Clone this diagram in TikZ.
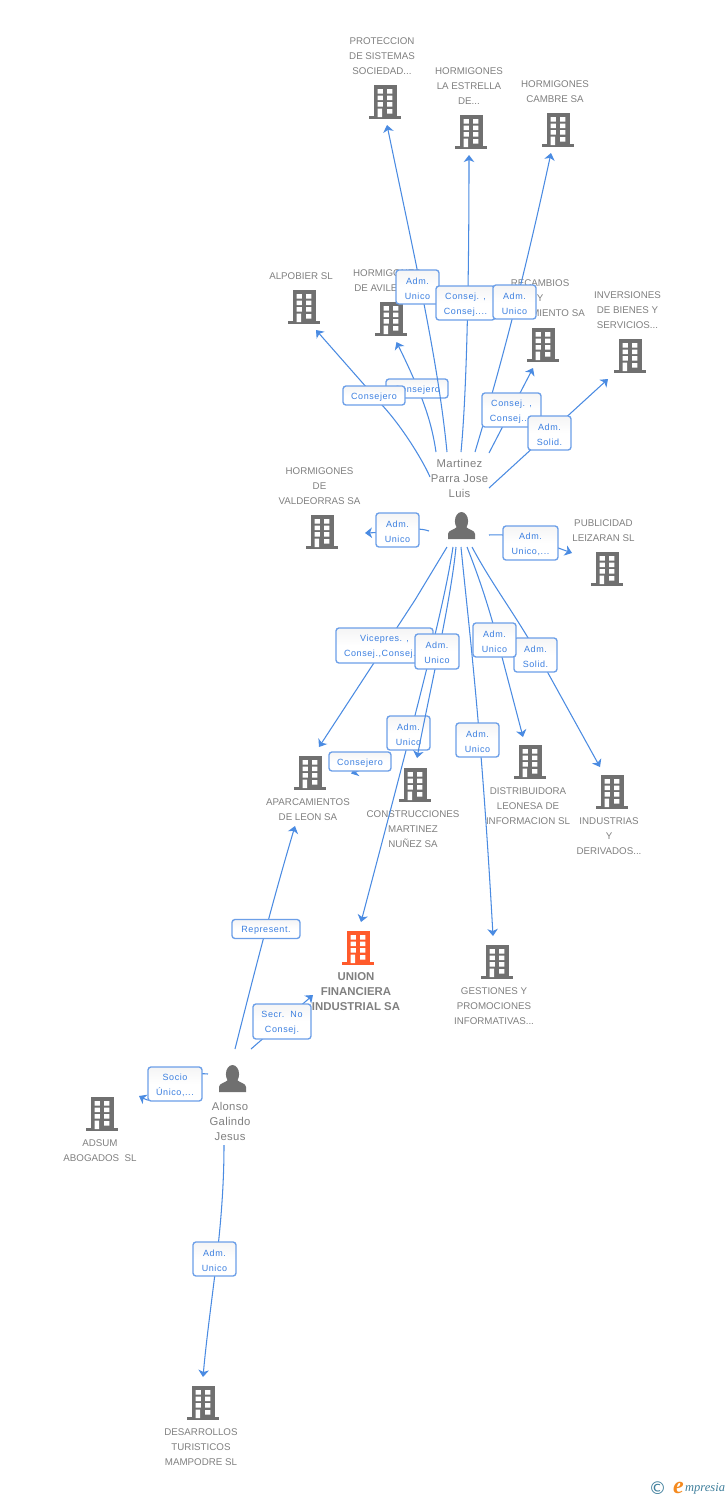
\documentclass[tikz,border=0pt]{standalone}
\usepackage{fontspec}
\usetikzlibrary{arrows.meta}
\setmainfont{Liberation Sans}
\newfontfamily\lblfont[LetterSpace=6.5]{Liberation Sans}
\newfontfamily\perfont[LetterSpace=3]{Liberation Sans}
\newfontfamily\logoserif{Liberation Serif}
\newfontfamily\logosym{DejaVu Sans}
\newcommand{\lift}{\rule{0pt}{9.5pt}}
\definecolor{linkblue}{HTML}{4A8BE2}
\definecolor{boxedge}{HTML}{6C9FE8}
\definecolor{boxtext}{HTML}{3B7FE0}
\definecolor{icongray}{HTML}{707070}
\definecolor{textgray}{HTML}{808080}
\definecolor{focus}{HTML}{FF5A2B}
\definecolor{logoteal}{HTML}{3F7F9C}
\definecolor{logoorange}{HTML}{F58A1F}
\tikzset{
  x=1pt,y=-1pt,
  conn/.style={draw=linkblue,line width=1.05pt,-{Stealth[length=7pt,width=10.5pt,inset=2pt]}},
  lbl/.style={draw=boxedge,line width=1.35pt,rounded corners=3pt,top color=blue!3!gray!8,bottom color=white,middle color=white,
    font=\lblfont\fontsize{9}{15}\selectfont,text=boxtext,align=center,inner sep=0pt},
  ent/.style={font=\fontsize{9.75}{15}\selectfont,text=textgray,align=center,inner sep=0pt},
  entbold/.style={font=\bfseries\fontsize{11.4}{15}\selectfont,text=textgray,align=center,inner sep=0pt},
  per/.style={font=\perfont\fontsize{11.3}{15}\selectfont,text=textgray,align=center,inner sep=0pt},
  pics/bld/.style={code={
    \fill[#1] (-11.5,0) rectangle (11.5,32);
    \fill[#1] (-16,31) rectangle (16,34);
    \fill[white] (-7.3,4) rectangle (-2.2,8.5) (2,4) rectangle (7.3,8.5)
      (-7.3,10.7) rectangle (-2.2,15.2) (2,10.7) rectangle (7.3,15.2)
      (-7.3,17.2) rectangle (-2.2,21.5) (2,17.2) rectangle (7.3,21.5)
      (-7.3,23.5) rectangle (-2.8,32) (2,24) rectangle (7.3,28.5);
  }},
  pics/guy/.style={code={
    \fill[icongray] (0,9.2) ellipse[x radius=6.6,y radius=9.2];
    \fill[icongray] (-13.5,27) -- (-13.5,22) .. controls (-13.5,18) and (-7,18) .. (-4,14.5) -- (4,14.5) .. controls (7,18) and (13.5,18) .. (13.5,22) -- (13.5,27) -- cycle;
  }},
}
\begin{document}
\begin{tikzpicture}
\useasboundingbox (0,0) rectangle (728,1500);
\fill[white] (0,0) rectangle (728,1500);
% icons
\pic at (385,85) {bld=icongray};
\pic at (471,115) {bld=icongray};
\pic at (558,113) {bld=icongray};
\pic at (304,290) {bld=icongray};
\pic at (391,302) {bld=icongray};
\pic at (543,328) {bld=icongray};
\pic at (630,339) {bld=icongray};
\pic at (322,515) {bld=icongray};
\pic at (607,552) {bld=icongray};
\pic at (310,756) {bld=icongray};
\pic at (415,768) {bld=icongray};
\pic at (530,745) {bld=icongray};
\pic at (612,775) {bld=icongray};
\pic at (358,931) {bld=focus};
\pic at (497,945) {bld=icongray};
\pic at (102,1097) {bld=icongray};
\pic at (203,1386) {bld=icongray};
\pic at (461.5,512) {guy};
\pic at (232.5,1065) {guy};
% names
\node[ent] (tprot) at (382,56) {PROTECCION\\DE SISTEMAS\\SOCIEDAD...};
\node[ent] (testr) at (469,86) {HORMIGONES\\LA ESTRELLA\\DE...};
\node[ent] (tcamb) at (555,91.5) {HORMIGONES\\CAMBRE SA};
\node[ent] (talpo) at (301,276) {ALPOBIER SL};
\node[ent] (tavil) at (387,280.5) {HORMIGONES\\DE AVILES SA};
\node[ent] (treca) at (540,299) {RECAMBIOS\\Y\\EQUIPAMIENTO SA};
\node[ent] (tinve) at (627.5,310) {INVERSIONES\\DE BIENES Y\\SERVICIOS...};
\node[ent] (tvald) at (319.5,486) {HORMIGONES\\DE\\VALDEORRAS SA};
\node[ent] (tpubl) at (603.5,530.5) {PUBLICIDAD\\LEIZARAN SL};
\node[ent] (tapar) at (308,809.5) {APARCAMIENTOS\\DE LEON SA};
\node[ent] (tcons) at (413,829) {CONSTRUCCIONES\\MARTINEZ\\NUÑEZ SA};
\node[ent] (tdist) at (528,806) {DISTRIBUIDORA\\LEONESA DE\\INFORMACION SL};
\node[ent] (tindu) at (609,836) {INDUSTRIAS\\Y\\DERIVADOS...};
\node[entbold] (tunio) at (356,992) {UNION\\FINANCIERA\\INDUSTRIAL SA};
\node[ent] (tgest) at (494,1006) {GESTIONES Y\\PROMOCIONES\\INFORMATIVAS...};
\node[ent] (tadsu) at (100,1150.5) {ADSUM\\ABOGADOS\ \ SL};
\node[ent] (tdesa) at (201,1447) {DESARROLLOS\\TURISTICOS\\MAMPODRE SL};
\node[per] (tmart) at (459.5,478) {Martinez\\Parra Jose\\Luis};
\node[per] (talon) at (230,1121) {Alonso\\Galindo\\Jesus};
% free ends of connectors
\coordinate (sprot) at (447,452); \coordinate (eprot) at (387,125);
\coordinate (sestr) at (461,452); \coordinate (eestr) at (469,155);
\coordinate (scamb) at (475,452); \coordinate (ecamb) at (551,153);
\coordinate (salpo) at (430,477); \coordinate (ealpo) at (316,330);
\coordinate (savil) at (436,452); \coordinate (eavil) at (396.5,342);
\coordinate (sreca) at (489,453); \coordinate (ereca) at (533,368);
\coordinate (sinve) at (489,488); \coordinate (einve) at (608,379);
\coordinate (svald) at (429,531); \coordinate (evald) at (365,533);
\coordinate (spubl) at (489,535); \coordinate (epubl) at (572,553);
\coordinate (sapar) at (447,547); \coordinate (eapar) at (319,747);
\coordinate (sunio) at (453,547); \coordinate (eunio) at (361,922);
\coordinate (scons) at (456,547); \coordinate (econs) at (417,758);
\coordinate (sgest) at (461,547); \coordinate (egest) at (493,936);
\coordinate (sindu) at (472,547); \coordinate (eindu) at (600,767);
\coordinate (sdist) at (467,547); \coordinate (edist) at (523,737);
\coordinate (sback) at (372,766); \coordinate (eback) at (351,773.5);
\coordinate (srepr) at (235,1049); \coordinate (erepr) at (295,826);
\coordinate (ssecr) at (251,1049); \coordinate (esecr) at (313,995);
\coordinate (ssoci) at (208,1074); \coordinate (esoci) at (139,1096);
\coordinate (sdesa) at (224,1145); \coordinate (edesa) at (203,1377);
% connectors and their labels
\draw[conn] (savil) .. controls (432,425) and (425,400) .. (eavil);
\node[lbl,minimum width=62pt,minimum height=19pt] (lavil) at (417,388.5) {\lift Consejero};
\draw[conn] (salpo) .. controls (425,465) and (405,430) .. (382,405) -- (ealpo);
\node[lbl,minimum width=62pt,minimum height=19pt] (lalpo) at (374,395.5) {\lift Consejero};
\draw[conn] (sprot) .. controls (438,360) and (415,260) .. (eprot);
\node[lbl,minimum width=43pt,minimum height=34pt] (lprot) at (417.5,287) {\lift Adm.\\Unico};
\draw[conn] (sestr) .. controls (466,400) and (469,300) .. (eestr);
\node[lbl,minimum width=59pt,minimum height=34pt] (lestr) at (465.5,303) {\lift Consej. ,\\Consej....};
\draw[conn] (scamb) .. controls (492,395) and (517,310) .. (ecamb);
\node[lbl,minimum width=43pt,minimum height=34pt] (lcamb) at (514.5,302) {\lift Adm.\\Unico};
\draw[conn] (sreca) -- (ereca);
\node[lbl,minimum width=59pt,minimum height=34pt] (lreca) at (511.5,410) {\lift Consej. ,\\Consej....};
\draw[conn] (sinve) -- (einve);
\node[lbl,minimum width=43pt,minimum height=34pt] (linve) at (549.5,433) {\lift Adm.\\Solid.};
\draw[conn] (svald) .. controls (415,526) and (395,532) .. (evald);
\node[lbl,minimum width=43pt,minimum height=34pt] (lvald) at (397.5,530) {\lift Adm.\\Unico};
\draw[conn] (spubl) .. controls (520,533) and (550,545) .. (epubl);
\node[lbl,minimum width=55pt,minimum height=34pt] (lpubl) at (530.5,543) {\lift Adm.\\Unico,...};
\draw[conn] (sapar) -- (415,600) -- (eapar);
\node[lbl,minimum width=97pt,minimum height=35pt] (lapar) at (384.5,645.5) {\lift Vicepres. ,\\Consej.,Consej....};
\draw[conn] (sunio) .. controls (445,600) and (425,680) .. (eunio);
\node[lbl,minimum width=43pt,minimum height=34pt] (lunio) at (408.5,733) {\lift Adm.\\Unico};
\draw[conn] (scons) .. controls (451,600) and (430,690) .. (econs);
\node[lbl,minimum width=44pt,minimum height=35pt] (lcons) at (437,651.5) {\lift Adm.\\Unico};
\draw[conn] (sgest) .. controls (468,620) and (481,720) .. (egest);
\node[lbl,minimum width=43pt,minimum height=34pt] (lgest) at (477.5,740) {\lift Adm.\\Unico};
\draw[conn] (sindu) .. controls (495,590) and (520,620) .. (548,673) -- (eindu);
\node[lbl,minimum width=43pt,minimum height=34pt] (lindu) at (535.5,655) {\lift Adm.\\Solid.};
\draw[conn] (sdist) .. controls (480,580) and (490,610) .. (502,657) -- (edist);
\node[lbl,minimum width=43pt,minimum height=34pt] (ldist) at (494.5,640) {\lift Adm.\\Unico};
\draw[conn] (sback) -- (eback);
\node[lbl,minimum width=62pt,minimum height=19pt] (lback) at (360,761.5) {\lift Consejero};
\draw[conn] (srepr) .. controls (250,990) and (270,910) .. (erepr);
\node[lbl,minimum width=68pt,minimum height=19pt] (lrepr) at (266,929) {\lift Represent.};
\draw[conn] (ssecr) -- (esecr);
\node[lbl,minimum width=58pt,minimum height=35pt] (lsecr) at (282,1021.5) {\lift Secr.\ \ No\\Consej.};
\draw[conn] (ssoci) .. controls (170,1070) and (165,1110) .. (esoci);
\node[lbl,minimum width=54pt,minimum height=34pt] (lsoci) at (175,1084) {\lift Socio\\Único,...};
\draw[conn] (sdesa) .. controls (224,1230) and (210,1300) .. (edesa);
\node[lbl,minimum width=43pt,minimum height=34pt] (ldesa) at (214.5,1259) {\lift Adm.\\Unico};
% logo
\node[inner sep=0pt,text=logoteal,font=\logosym\fontsize{17.5}{17.5}\selectfont] (lcopy) at (657.5,1488.5) {©};
\node[inner sep=0pt,text=logoorange,font=\logoserif\bfseries\itshape\fontsize{24}{24}\selectfont] (llogoe) at (678.5,1488) {e};
\node[inner sep=0pt,text=logoteal,font=\logoserif\itshape\fontsize{12.5}{12.5}\selectfont,anchor=west] (llogo) at (685,1489) {mpresia};
\end{tikzpicture}
\end{document}
